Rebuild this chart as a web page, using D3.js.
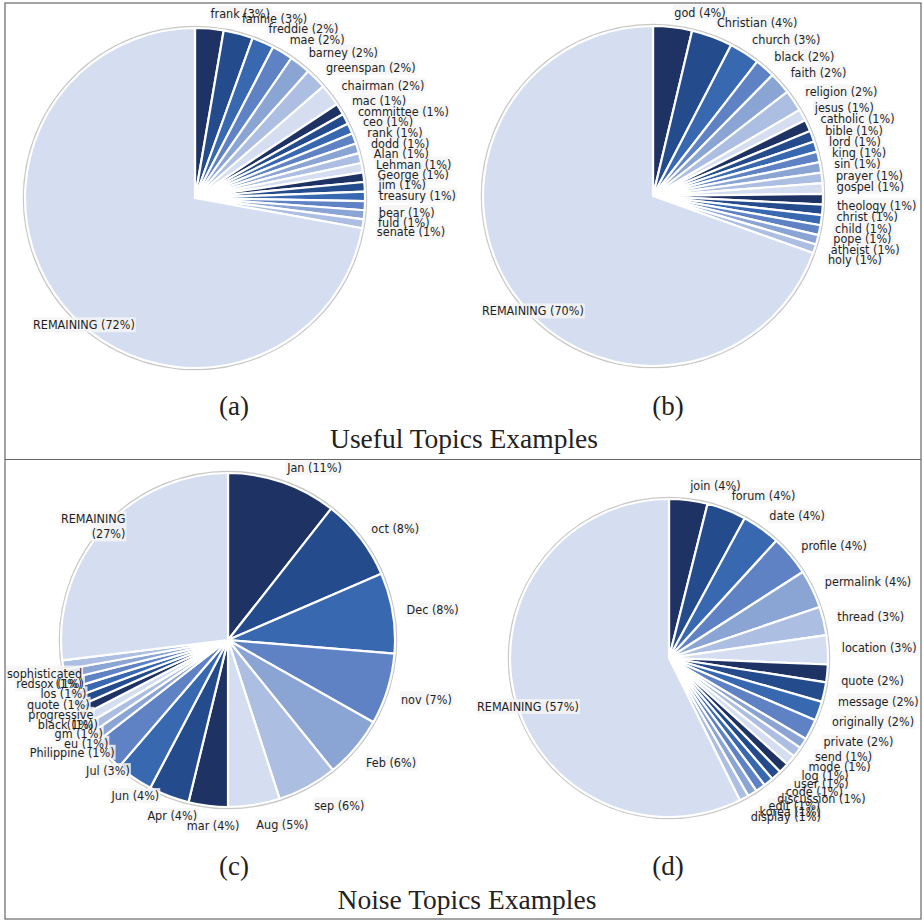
<!DOCTYPE html>
<html><head><meta charset="utf-8">
<script src="https://cdn.jsdelivr.net/npm/d3@7"></script>
<style>body{margin:0;background:#fff}</style>
</head><body><svg id="c" width="924" height="921"></svg>
<script>
// ---------- data ----------
const topicsA = ["frank","fannie","freddie","mae","barney","greenspan","chairman","mac","committee","ceo","rank","dodd","Alan","Lehman","George","jim","treasury","bear","fuld","senate","REMAINING"];
const valuesA = [2.7,2.8,2.1,2.0,2.0,2.0,2.1,1.1,1.0,1.0,1.0,0.95,0.95,0.9,0.9,0.9,0.9,0.85,0.85,0.85,72.15];

const topicsB = ["god","Christian","church","black","faith","religion","jesus","catholic","bible","lord","king","sin","prayer","gospel","theology","christ","child","pope","atheist","holy","REMAINING"];
const valuesB = [3.7,3.9,2.9,1.9,2.1,2.05,1.1,1.1,1.05,1.0,1.0,1.0,1.0,1.0,1.0,1.0,0.95,0.95,0.9,0.85,69.55];

const topicsC = ["Jan","oct","Dec","nov","Feb","sep","Aug","mar","Apr","Jun","Jul","Philippine","eu","gm","black","progressive","quote","los","redsox","sophisticated","REMAINING"];
const valuesC = [10.6,7.9,7.8,6.9,6.0,5.8,5.0,3.8,3.9,3.6,3.2,1.0,0.95,0.95,0.95,0.95,0.95,0.95,0.95,0.9,26.95];

const topicsD = ["join","forum","date","profile","permalink","thread","location","quote","message","originally","private","send","mode","log","user","code","discussion","edit","korea","display","REMAINING"];
const valuesD = [3.9,4.0,3.9,4.1,3.9,2.9,2.95,1.8,2.0,1.95,2.1,1.05,1.05,1.05,1.05,1.05,1.0,1.0,0.95,0.95,57.35];

const subCaptions = ["(a)","(b)","(c)","(d)"];
const groupCaptions = ["Useful Topics Examples","Noise Topics Examples"];

// ---------- drawing ----------
const svg = d3.select("#c");
const palette = ["#1e3264","#244b8c","#3768b0","#5f82c4","#8aa4d4","#acbee1","#d4def0"];
const color = d3.scaleOrdinal().range(palette);
const labelFont = "'DejaVu Sans Condensed','DejaVu Sans',sans-serif";
const serif = "'Liberation Serif','DejaVu Serif',serif";

// frame
const frame = svg.append("g").attr("fill","none").attr("stroke","#666").attr("stroke-width",1.2);
frame.append("rect").attr("x",5).attr("y",3).attr("width",916).attr("height",916);
frame.append("line").attr("x1",5).attr("x2",921).attr("y1",459.5).attr("y2",459.5);

const charts = [
  {names: topicsA, values: valuesA, cx:195, cy:198, r:170, leftLimit:33, remLimit:33, wrap:false},
  {names: topicsB, values: valuesB, cx:653, cy:196, r:170, leftLimit:482, remLimit:482, wrap:false},
  {names: topicsC, values: valuesC, cx:228, cy:640, r:167, leftLimit:14, remLimit:33, wrap:true},
  {names: topicsD, values: valuesD, cx:669, cy:658, r:159, leftLimit:477, remLimit:477, wrap:false}
];

charts.forEach(cfg => {
  const data = cfg.names.map((n,i)=>({name:n, value:cfg.values[i], i}));
  const arcs = d3.pie().sort(null).value(d=>d.value)(data);
  const arc = d3.arc().innerRadius(0).outerRadius(cfg.r);
  const g = svg.append("g").attr("transform",`translate(${cfg.cx},${cfg.cy})`);
  g.append("circle").attr("r",cfg.r+1.2).attr("fill","none").attr("stroke","#c8c8c8").attr("stroke-width",2.2);
  g.selectAll("path").data(arcs).join("path")
    .attr("d",arc).attr("fill",d=>color(d.data.i))
    .attr("stroke","#fff").attr("stroke-width",2.2).attr("stroke-linejoin","round");

  const bg = svg.append("g");
  const lg = svg.append("g").attr("font-family",labelFont).attr("font-size",12.5).attr("fill","#1f1f1f");
  const R = cfg.r + 14;
  const last = arcs.length - 1;
  arcs.forEach((a,k) => {
    const th = (a.startAngle + a.endAngle)/2;
    const px = cfg.cx + R*Math.sin(th), py = cfg.cy - R*Math.cos(th);
    const yc = Math.cos(th) >= 0 ? py - 1 : py + 6;
    const pct = `(${Math.round(a.data.value)}%)`;
    const full = `${a.data.name} ${pct}`;
    const right = th <= Math.PI;
    const t = lg.append("text").attr("dy","0.35em");
    if (right) {
      t.attr("x",px).attr("y",yc).attr("text-anchor","start").text(full);
    } else {
      const end = px + 33;
      const limit = k === last ? cfg.remLimit : cfg.leftLimit;
      t.attr("x",end).attr("y",yc).attr("text-anchor","end").text(full);
      const w = t.node().getComputedTextLength();
      if (end - w < limit) {
        if (cfg.wrap) {
          t.text(a.data.name);
          lg.append("text").attr("dy","0.35em").attr("x",end)
            .attr("y",yc + (k === last ? 15 : 10)).attr("text-anchor","end").text(pct);
        } else {
          t.attr("x",limit).attr("y",yc+3).attr("text-anchor","start");
        }
      }
    }
  });
  // faint label backgrounds
  lg.selectAll("text").each(function(){
    const b = this.getBBox();
    bg.append("rect").attr("x",b.x-1).attr("y",b.y).attr("width",b.width+2).attr("height",b.height)
      .attr("fill","#f4f4f4").attr("opacity",0.85);
  });
});

// captions
const cap = svg.append("g").attr("font-family",serif).attr("fill","#222").attr("text-anchor","middle");
const capPos = [[234,415],[668,415],[234,875],[668,875]];
subCaptions.forEach((s,i)=>cap.append("text").attr("x",capPos[i][0]).attr("y",capPos[i][1]).attr("font-size",27).text(s));
cap.append("text").attr("x",464).attr("y",448).attr("font-size",27.5).text(groupCaptions[0]);
cap.append("text").attr("x",467).attr("y",909).attr("font-size",27.5).text(groupCaptions[1]);
</script></body></html>
